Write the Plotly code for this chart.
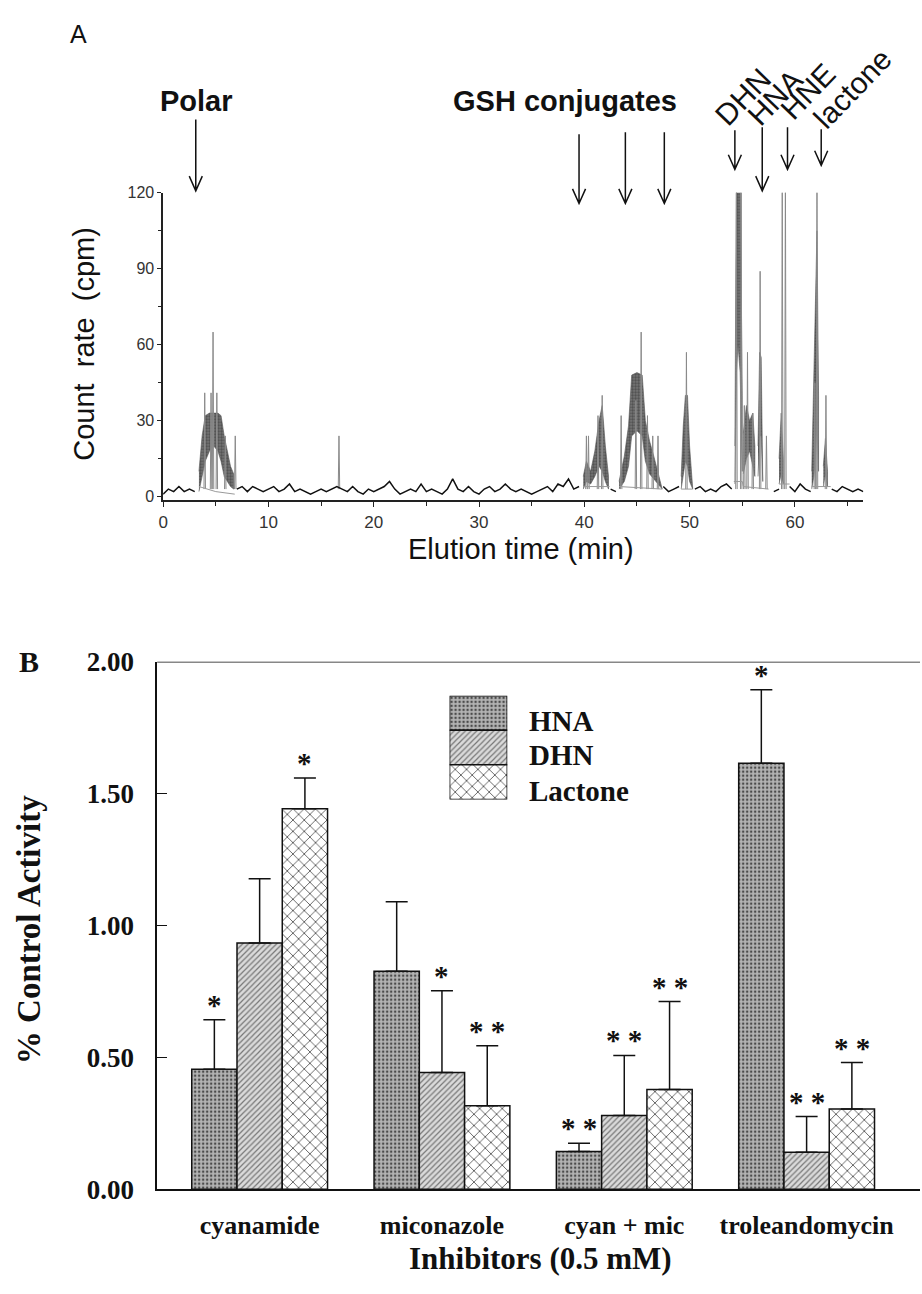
import plotly.graph_objects as go

W, H = 922, 1294

# ---------------- Panel A data (radio-HPLC chromatogram) ----------------
base_t = [0.0, 0.5, 1.0, 1.5, 2.0, 2.5, 3.0, 3.5, 4.0, 4.5,
          5.0, 5.5, 6.0, 6.5, 7.0, 7.5, 8.0, 8.5, 9.0, 9.5,
          10.0, 10.5, 11.0, 11.5, 12.0, 12.5, 13.0, 13.5, 14.0, 14.5,
          15.0, 15.5, 16.0, 16.5, 17.0, 17.5, 18.0, 18.5, 19.0, 19.5,
          20.0, 20.5, 21.0, 21.5, 22.0, 22.5, 23.0, 23.5, 24.0, 24.5,
          25.0, 25.5, 26.0, 26.5, 27.0, 27.5, 28.0, 28.5, 29.0, 29.5,
          30.0, 30.5, 31.0, 31.5, 32.0, 32.5, 33.0, 33.5, 34.0, 34.5,
          35.0, 35.5, 36.0, 36.5, 37.0, 37.5, 38.0, 38.5, 39.0, 39.5,
          40.0, 40.5, 41.0, 41.5, 42.0, 42.5, 43.0, 43.5, 44.0, 44.5,
          45.0, 45.5, 46.0, 46.5, 47.0, 47.5, 48.0, 48.5, 49.0, 49.5,
          50.0, 50.5, 51.0, 51.5, 52.0, 52.5, 53.0, 53.5, 54.0, 54.5,
          55.0, 55.5, 56.0, 56.5, 57.0, 57.5, 58.0, 58.5, 59.0, 59.5,
          60.0, 60.5, 61.0, 61.5, 62.0, 62.5, 63.0, 63.5, 64.0, 64.5,
          65.0, 65.5, 66.0, 66.5]
base_cpm = [1, 3, 2, 4, 2, 3, 2, None, None, None,
            None, None, None, None, 3, 4, 2, 4, 3, 2,
            3, 4, 2, 3, 5, 2, 3, 2, 1, 2,
            3, 2, 3, 4, 3, 2, 4, 2, 1, 3,
            2, 3, 4, 6, 3, 1, 2, 3, 2, 5,
            2, 3, 2, 1, 3, 7, 3, 2, 4, 2,
            1, 3, 4, 2, 3, 5, 3, 2, 3, 2,
            1, 2, 3, 4, 2, 5, 4, 7, 3, 4,
            None, None, None, None, None, 3, 2, None, None, None,
            None, None, None, None, None, 4, 2, 3, 4, None,
            None, 3, 4, 2, 3, 2, 4, 5, 3, None,
            None, None, None, None, None, None, 2, 3, None, 4,
            2, 5, 3, 2, None, None, None, 3, 2, 4,
            3, 2, 3, 2]

# narrow spikes (retention time, cpm)
spike_t = [3.95, 4.55, 4.74, 5.1, 5.9, 6.85, 16.7, 40.2, 40.4, 41.3, 41.7, 43.5,
           44.9, 45.4, 46.0, 46.5, 47.0, 49.7, 54.45, 54.9, 55.2, 55.5, 56.0,
           56.7, 57.3, 58.8, 59.1, 61.9, 62.1, 62.95]
spike_cpm = [41, 41, 65, 41, 24, 24, 24, 24, 24, 32, 40, 32,
             38, 65, 32, 24, 24, 57, 130, 130, 36, 57, 33,
             89, 24, 130, 130, 45, 130, 40]

# dense (overlaid) peak bands: time, lower edge, upper edge
band_t = [[3.4, 3.7, 4.0, 4.4, 4.8, 5.2, 5.5, 5.8, 6.1, 6.4, 6.7],
          [39.9, 40.2, 40.6, 41.0, 41.4, 41.7, 42.0, 42.3],
          [43.3, 43.8, 44.2, 44.5, 45.0, 45.5, 45.8, 46.2, 46.6, 47.0, 47.4],
          [49.2, 49.4, 49.6, 49.8, 50.0, 50.3],
          [54.3, 54.45, 54.6, 54.8, 55.0],
          [55.1, 55.4, 55.7, 56.0, 56.2],
          [56.5, 56.65, 56.8, 56.95],
          [58.5, 58.7, 58.9],
          [61.6, 61.8, 61.95, 62.1, 62.25],
          [62.7, 62.9, 63.1]]
band_lo = [[2, 8, 14, 18, 20, 18, 14, 8, 6, 4, 3],
           [3, 6, 5, 8, 12, 10, 6, 3],
           [3, 6, 12, 24, 26, 24, 14, 9, 7, 5, 3],
           [3, 8, 14, 12, 6, 3],
           [5, 49, 60, 49, 10],
           [9, 15, 18, 12, 8],
           [8, 24, 24, 6],
           [5, 9, 5],
           [3, 8, 15, 30, 10],
           [4, 9, 4]]
band_hi = [[10, 24, 32, 33, 33, 33, 32, 24, 18, 12, 9],
           [8, 14, 10, 18, 30, 36, 20, 8],
           [6, 16, 28, 48, 49, 48, 30, 22, 16, 10, 4],
           [8, 28, 40, 40, 20, 5],
           [20, 130, 130, 130, 40],
           [25, 36, 30, 33, 20],
           [20, 57, 55, 15],
           [15, 33, 15],
           [10, 51, 70, 105, 40],
           [12, 23, 10]]

# faint inner baseline under the peaks
inner_t = [3.4, 5.0, 6.8, None, 39.9, 42.4, None, 43.3, 47.4, None, 49.2, 50.3, None,
           54.2, 55.0, 55.1, 57.5, None, 58.5, 59.5, None, 61.6, 63.4]
inner_cpm = [4, 2, 1, None, 4, 4, None, 4, 3, None, 3, 3, None,
             6, 6, 4, 3, None, 5, 5, None, 4, 4]

# peak markers (arrows) and their labels
arrow_t = [3.1, 39.5, 43.9, 47.6, 54.3, 56.9, 59.3, 62.5]
arrow_top_px = [107, 122, 120, 120, 118, 115, 115, 117]
arrow_bot_px = [180, 193, 193, 193, 158, 180, 158, 154]
peak_names = ["DHN", "HNA", "HNE", "lactone"]
peak_name_px = [(742, 83), (774, 84), (807, 78), (852, 75)]

# ---------------- Panel B data ----------------
inhibitors = ["cyanamide", "miconazole", "cyan + mic", "troleandomycin"]
hna = [0.455, 0.826, 0.143, 1.615]
hna_err = [0.187, 0.264, 0.031, 0.278]
dhn = [0.933, 0.442, 0.279, 0.140]
dhn_err = [0.244, 0.310, 0.228, 0.135]
lactone = [1.442, 0.316, 0.378, 0.304]
lactone_err = [0.117, 0.228, 0.333, 0.176]
sig_hna = ["*", "", "* *", "*"]
sig_dhn = ["", "*", "* *", "* *"]
sig_lactone = ["*", "* *", "* *", "* *"]
y_ticks_b = [0, 0.5, 1.0, 1.5, 2.0]
y_ticktext_b = ["0.00", "0.50", "1.00", "1.50", "2.00"]


def px_x(p):
    return p / W


def px_y(p):
    return 1 - p / H


SANS = "Liberation Sans, Arial, sans-serif"
SERIF = "Liberation Serif, Times New Roman, serif"

fig = go.Figure()

# ---- panel A traces ----
for t, lo, hi in zip(band_t, band_lo, band_hi):
    fig.add_trace(go.Scatter(
        x=t + t[::-1], y=hi + lo[::-1], mode="lines", fill="toself",
        fillcolor="#555555", line=dict(color="#555555", width=0.6),
        fillpattern=dict(shape=".", fgcolor="#222222", bgcolor="#7a7a7a", size=3, solidity=0.5),
        xaxis="x", yaxis="y", hoverinfo="skip"))

sx, sy = [], []
for t, h in zip(spike_t, spike_cpm):
    sx += [t - 0.07, t, t + 0.07, None]
    sy += [3, h, 3, None]
fig.add_trace(go.Scatter(x=sx, y=sy, mode="lines", line=dict(color="#8a8a8a", width=1),
                         xaxis="x", yaxis="y", hoverinfo="skip"))
fig.add_trace(go.Scatter(x=inner_t, y=inner_cpm, mode="lines", line=dict(color="#9a9a9a", width=1),
                         xaxis="x", yaxis="y", hoverinfo="skip"))
fig.add_trace(go.Scatter(x=base_t, y=base_cpm, mode="lines", line=dict(color="#111111", width=1.5),
                         xaxis="x", yaxis="y", hoverinfo="skip"))

# ---- panel B bars ----
bargap = 0.255
bar_w = (1 - bargap) / 3
xs = list(range(len(inhibitors)))
series = [
    (hna, hna_err, dict(shape=".", fgcolor="#4a4a4a", bgcolor="#b4b4b4", size=4, solidity=0.3), sig_hna),
    (dhn, dhn_err, dict(shape="/", fgcolor="#777777", bgcolor="#dadada", size=4, solidity=0.3), sig_dhn),
    (lactone, lactone_err, dict(shape="x", fgcolor="#222222", bgcolor="#ffffff", size=8, solidity=0.16), sig_lactone),
]
for k, (vals, errs, pat, sig) in enumerate(series):
    fig.add_trace(go.Bar(
        x=xs, y=vals, xaxis="x2", yaxis="y2",
        marker=dict(color=pat["bgcolor"], pattern=dict(fillmode="replace", **pat),
                    line=dict(color="#111111", width=1.5)),
        error_y=dict(type="data", symmetric=False, array=errs, arrayminus=[0] * len(errs),
                     color="#111111", thickness=1.5, width=11),
        hoverinfo="skip"))
    for i, (v, e, s) in enumerate(zip(vals, errs, sig)):
        if s:
            fig.add_annotation(x=i + (k - 1) * bar_w, y=v + e, xref="x2", yref="y2",
                               text=s, showarrow=False, yanchor="bottom", yshift=-3,
                               font=dict(family=SERIF, size=29, color="#111111", weight="bold"))

# ---- legend swatches (panel B) ----
for k, (vals, errs, pat, sig) in enumerate(series):
    fig.add_trace(go.Bar(
        x=[0], y=[1], base=[2 - k], width=1, offsetgroup="leg", xaxis="x3", yaxis="y3",
        marker=dict(color=pat["bgcolor"], pattern=dict(fillmode="replace", **pat),
                    line=dict(color="#111111", width=1.5)),
        hoverinfo="skip"))
legend_names = ["HNA", "DHN", "Lactone"]
legend_py = [723, 758, 794]
for name, py in zip(legend_names, legend_py):
    fig.add_annotation(x=px_x(525), y=px_y(py), xref="paper", yref="paper", text=name,
                       showarrow=False, xanchor="left", yanchor="middle",
                       font=dict(family=SERIF, size=29, color="#111111", weight="bold"))

# ---- arrows (panel A) ----
hw = 0.62
hh = 15 / H
for t, top, bot in zip(arrow_t, arrow_top_px, arrow_bot_px):
    yt, yb = px_y(top), px_y(bot)
    fig.add_shape(type="path", xref="x", yref="paper",
                  path=f"M {t},{yt} L {t},{yb} M {t - hw},{yb + hh} L {t},{yb} L {t + hw},{yb + hh}",
                  line=dict(color="#111111", width=1.5))

for name, (cx, cy) in zip(peak_names, peak_name_px):
    fig.add_annotation(x=px_x(cx), y=px_y(cy), xref="paper", yref="paper", text=name,
                       showarrow=False, textangle=-46, xanchor="center", yanchor="middle",
                       font=dict(family=SANS, size=30, color="#111111"))

texts = [
    ("A", 74, 19, dict(family=SANS, size=25, color="#111111"), 0),
    ("Polar", 193, 88, dict(family=SANS, size=29, color="#111111", weight="bold"), 0),
    ("GSH conjugates", 563, 88, dict(family=SANS, size=29, color="#111111", weight="bold"), 0),
    ("Count  rate  (cpm)", 80, 337, dict(family=SANS, size=29, color="#111111"), -90),
    ("Elution time (min)", 519, 547, dict(family=SANS, size=29, color="#111111"), 0),
    ("B", 24, 662, dict(family=SERIF, size=30, color="#111111", weight="bold"), 0),
    ("% Control Activity", 24, 936, dict(family=SERIF, size=33, color="#111111", weight="bold"), -90),
    ("Inhibitors (0.5 mM)", 538, 1273, dict(family=SERIF, size=31, color="#111111", weight="bold"), 0),
]
for txt, cx, cy, f, ang in texts:
    fig.add_annotation(x=px_x(cx), y=px_y(cy), xref="paper", yref="paper", text=txt,
                       showarrow=False, textangle=ang, xanchor="center", yanchor="middle", font=f)

# top frame line of panel B
fig.add_shape(type="line", xref="x2 domain", yref="y2", x0=0, x1=1, y0=2, y1=2,
              line=dict(color="#111111", width=1.5))

fig.update_layout(
    width=W, height=H, margin=dict(l=0, r=0, t=0, b=0),
    paper_bgcolor="white", plot_bgcolor="white", showlegend=False,
    barmode="group", bargap=bargap, bargroupgap=0,
    xaxis=dict(domain=[px_x(159), px_x(863)], anchor="y", range=[0, 66.5],
               tick0=0, dtick=10, showline=True, linecolor="#222222", linewidth=1.5,
               ticks="outside", ticklen=5, tickcolor="#222222", tickwidth=1,
               minor=dict(tick0=0, dtick=5, ticks="outside", ticklen=4, tickcolor="#222222"),
               tickfont=dict(family=SANS, size=17, color="#333333"),
               showgrid=False, zeroline=False),
    yaxis=dict(domain=[px_y(497), px_y(182)], anchor="x", range=[-1.5, 120],
               tick0=0, dtick=30, showline=True, linecolor="#222222", linewidth=1.5,
               ticks="outside", ticklen=4, tickcolor="#222222",
               minor=dict(tick0=0, dtick=15, ticks="outside", ticklen=3, tickcolor="#222222"),
               tickfont=dict(family=SANS, size=16, color="#333333"),
               showgrid=False, zeroline=False),
    xaxis2=dict(domain=[px_x(153), px_x(920)], anchor="y2", range=[-0.562, 3.622],
                tickmode="array", tickvals=xs, ticktext=inhibitors, ticks="",
                showline=True, linecolor="#111111", linewidth=1.5,
                tickfont=dict(family=SERIF, size=26, color="#111111", weight="bold"),
                ticklabelstandoff=12, showgrid=False, zeroline=False),
    yaxis2=dict(domain=[px_y(1202), px_y(662)], anchor="x2", range=[0, 2],
                tickmode="array", tickvals=y_ticks_b, ticktext=y_ticktext_b,
                ticks="inside", ticklen=10, tickcolor="#111111",
                showline=True, linecolor="#111111", linewidth=1.5,
                tickfont=dict(family=SERIF, size=27, color="#111111", weight="bold"),
                ticklabelstandoff=16, showgrid=False, zeroline=False),
    xaxis3=dict(domain=[px_x(447), px_x(505)], anchor="y3", range=[-0.5, 0.5], visible=False),
    yaxis3=dict(domain=[px_y(803), px_y(697)], anchor="x3", range=[0, 3], visible=False),
)

fig.write_html("out.html")
